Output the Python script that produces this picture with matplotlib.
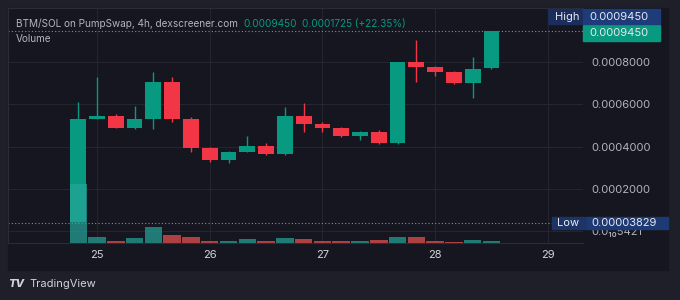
import matplotlib
matplotlib.use("Agg")
import matplotlib.dates as mdates
import matplotlib.pyplot as plt
import matplotlib.transforms as mtransforms
import pandas as pd
from matplotlib.patches import Rectangle

plt.rcParams["font.family"] = ["Inter", "DejaVu Sans"]

# 4h candles
START = "2025-05-24 20:00"
OPENS = [0.0000450, 0.000532, 0.000545, 0.000490, 0.000531, 0.000707, 0.000531,
         0.000395, 0.000337, 0.000375, 0.000405, 0.000364, 0.000546, 0.000507,
         0.000490, 0.000449, 0.000468, 0.000416, 0.000798, 0.000778, 0.000754,
         0.000702, 0.0007725]
HIGHS = [0.000612, 0.000730, 0.000553, 0.000592, 0.000751, 0.000730, 0.000538,
         0.000400, 0.000378, 0.000450, 0.000417, 0.000589, 0.000605, 0.000518,
         0.000492, 0.000476, 0.000477, 0.000800, 0.000903, 0.000782, 0.000756,
         0.000825, 0.000945]
LOWS = [0.0000383, 0.000530, 0.000488, 0.000483, 0.000483, 0.000518, 0.000376,
        0.000329, 0.000325, 0.000373, 0.000362, 0.000362, 0.000471, 0.000468,
        0.000447, 0.000430, 0.000413, 0.000414, 0.000704, 0.000735, 0.000697,
        0.000631, 0.000768]
CLOSES = [0.000532, 0.000545, 0.000490, 0.000531, 0.000707, 0.000531, 0.000395,
          0.000337, 0.000375, 0.000405, 0.000364, 0.000546, 0.000507, 0.000490,
          0.000449, 0.000468, 0.000416, 0.000798, 0.000775, 0.000754, 0.000702,
          0.000768, 0.000945]
VOLUMES = [118, 12, 4, 10.6, 32, 16.6, 11.4, 4, 3.4, 7.4, 4.6, 10.6, 8.6, 4,
           3.4, 4, 5.4, 12.6, 12.6, 3.4, 2.6, 6.6, 4]

PRICE_TICKS = [0, 0.0002, 0.0004, 0.0006, 0.0008]
PRICE_LABELS = ["0.0\u2081\u20805421", "0.0002000", "0.0004000", "0.0006000", "0.0008000"]
DAY_TICKS = ["2025-05-25", "2025-05-26", "2025-05-27", "2025-05-28", "2025-05-29"]

HIGH = 0.000945
LOW = 0.00003829
LAST = 0.000945
CHANGE = 0.0001725
CHANGE_PCT = 22.35

UP = "#089981"
DOWN = "#f23645"
UP_VOL = "#26a69a"
DOWN_VOL = "#ef5350"
OUTER_BG = "#1e1f29"
PANEL_BG = "#15161f"
GRID = "#23252f"
TEXT = "#b2b5be"

W, H = 680, 300
fig = plt.figure(figsize=(W / 100, H / 100), dpi=100, facecolor=OUTER_BG)
fig.patches.append(Rectangle((8 / W, 30 / H), 660 / W, 262 / H, transform=fig.transFigure,
                             color=PANEL_BG, zorder=-1))

rect = [8 / W, 57 / H, 575 / W, 235 / H]
ax = fig.add_axes(rect)
ax.set_facecolor(PANEL_BG)

times = pd.date_range(START, periods=len(OPENS), freq="4h")
x = mdates.date2num(times)
colors = [UP if c >= o else DOWN for o, c in zip(OPENS, CLOSES)]

ax.vlines(x, LOWS, HIGHS, colors=colors, linewidth=1, zorder=3)
ax.bar(x, [abs(c - o) for o, c in zip(OPENS, CLOSES)],
       bottom=[min(o, c) for o, c in zip(OPENS, CLOSES)],
       width=0.14, color=colors, zorder=4)

day_nums = mdates.date2num(pd.to_datetime(DAY_TICKS))
ax.set_xlim(day_nums[0] - 0.79, day_nums[0] + 4.312)
ax.set_ylim(-0.0000553, 0.001055)

ax.set_xticks(day_nums)
ax.set_xticklabels([d[-2:] for d in DAY_TICKS])
ax.set_yticks(PRICE_TICKS)
ax.set_yticklabels(PRICE_LABELS)
ax.yaxis.tick_right()
ax.tick_params(axis="y", length=0, pad=6, labelsize=8, labelcolor=TEXT)
ax.tick_params(axis="x", length=0, pad=5, labelsize=8, labelcolor="#d1d4dc")
ax.grid(True, color=GRID, linewidth=0.8)
ax.set_axisbelow(True)
for side in ["left", "top", "bottom"]:
    ax.spines[side].set_color("#2a2c36")
ax.spines["right"].set_visible(False)

# high / low dotted lines
ax.axhline(HIGH, color="#8a8d96", linewidth=0.8, linestyle=(0, (1, 2)), zorder=2)
ax.axhline(LOW, color="#8a8d96", linewidth=0.8, linestyle=(0, (1, 2)), zorder=2)

# volume overlay
vax = fig.add_axes(rect, sharex=ax)
vax.patch.set_visible(False)
vax.axis("off")
vax.bar(x, VOLUMES, width=0.155, alpha=0.7,
        color=[UP_VOL if c == UP else DOWN_VOL for c in colors])
vax.set_ylim(0, 470)

# price scale tags
trans = mtransforms.blended_transform_factory(ax.transAxes, ax.transData)
per_px = (ax.get_ylim()[1] - ax.get_ylim()[0]) / 235


def tag(y, h, x0, x1, color, text, tcolor="#e8e9ee", dy=0.0, tx=6):
    yc = y + dy * per_px
    ax.add_patch(Rectangle((x0 / 575, yc - h * per_px / 2), (x1 - x0) / 575, h * per_px,
                           transform=trans, color=color, clip_on=False, zorder=6))
    ax.text((x0 + tx) / 575, yc, text, transform=trans, ha="left", va="center",
            fontsize=8, color=tcolor, clip_on=False, zorder=7)


tag(LAST, 16, 575, 652, UP, f"{LAST:.7f}", dy=-1.5)
tag(LAST, 15, 540, 575, "#1b2d5a", "High", dy=14.5, tx=7)
tag(HIGH, 15, 575, 652, "#1e3c7a", f"{HIGH:.7f}", dy=14.5)
tag(LOW, 12, 544, 579, "#1d3566", "Low", tx=5)
tag(LOW, 12, 579, 660, "#1e3a74", f"{LOW:.8f}", tx=4)

# header texts
title = fig.text(16 / W, 1 - 24 / H, "BTM/SOL on PumpSwap, 4h, dexscreener.com",
                 fontsize=7.2, color=TEXT, ha="left", va="center")
t2 = ax.annotate(f"{LAST:.7f}", xy=(1, 0.5), xycoords=title, xytext=(4, 0),
                 textcoords="offset points", fontsize=7.2, color=UP, va="center",
                 annotation_clip=False)
ax.annotate(f"{CHANGE:.7f} (+{CHANGE_PCT:.2f}%)", xy=(1, 0.5), xycoords=t2, xytext=(4, 0),
            textcoords="offset points", fontsize=7.2, color=UP, va="center",
            annotation_clip=False)
fig.text(16 / W, 1 - 39 / H, "Volume", fontsize=7.2, color=TEXT, ha="left", va="center")

# footer
fig.text(8 / W, 1 - 284 / H, "TV", fontsize=8, fontweight="heavy", color="#d1d4dc",
         ha="left", va="center", fontstyle="italic")
fig.text(29 / W, 1 - 284 / H, "TradingView", fontsize=8, color="#d1d4dc",
         ha="left", va="center")

fig.savefig("out.png", dpi=100, facecolor=OUTER_BG)
